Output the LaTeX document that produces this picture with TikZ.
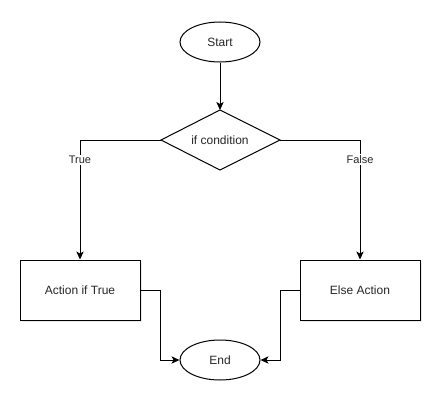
\documentclass[tikz,border=0pt]{standalone}
\usepackage{fontspec}
\setmainfont{Liberation Sans}
\usetikzlibrary{shapes.geometric,arrows.meta,shadows}
\begin{document}
\begin{tikzpicture}[x=0.75pt,y=-0.75pt,
  every node/.style={font=\fontsize{9}{11}\selectfont, text=black!85},
  shd/.style={drop shadow={opacity=0.18, shadow xshift=1.5pt, shadow yshift=-1.5pt}},
  term/.style={ellipse, draw, line width=0.75pt, fill=white, minimum width=60pt, minimum height=30pt, inner sep=0pt},
  actbox/.style={rectangle, draw, line width=0.75pt, fill=white, minimum width=90pt, minimum height=45pt, inner sep=0pt, shd},
  conn/.style={draw, line width=0.75pt, -{Stealth[length=6pt,width=5.5pt,inset=1.5pt]}},
  lbl/.style={fill=white, inner sep=1pt, font=\fontsize{8.25}{10}\selectfont}
]
\useasboundingbox (0,0) rectangle (447,407);
\node[term] (start) at (220,42) {Start};
\coordinate (cw) at (161,140);
\coordinate (cn) at (220,110);
\coordinate (ce) at (280,140);
\coordinate (cs) at (220,170);
\draw[line width=0.75pt, fill=white] (cw) -- (cn) -- (ce) -- (cs) -- cycle;
\node (cond) at (220,140) {if condition};
\node[actbox] (act) at (80,290) {Action if True};
\node[actbox] (else) at (360,290) {Else Action};
\node[term] (end) at (220,360) {End};
\path[conn] (start) -- (cn);
\path[conn] (cw) -| node[lbl, pos=0.583] {True} (act.north);
\path[conn] (ce) -| node[lbl, pos=0.583] {False} (else.north);
\coordinate (a1) at (160,290);
\coordinate (e1) at (280,290);
\path[conn] (act.east) -- (a1) |- (end.west);
\path[conn] (else.west) -- (e1) |- (end.east);
\end{tikzpicture}
\end{document}
